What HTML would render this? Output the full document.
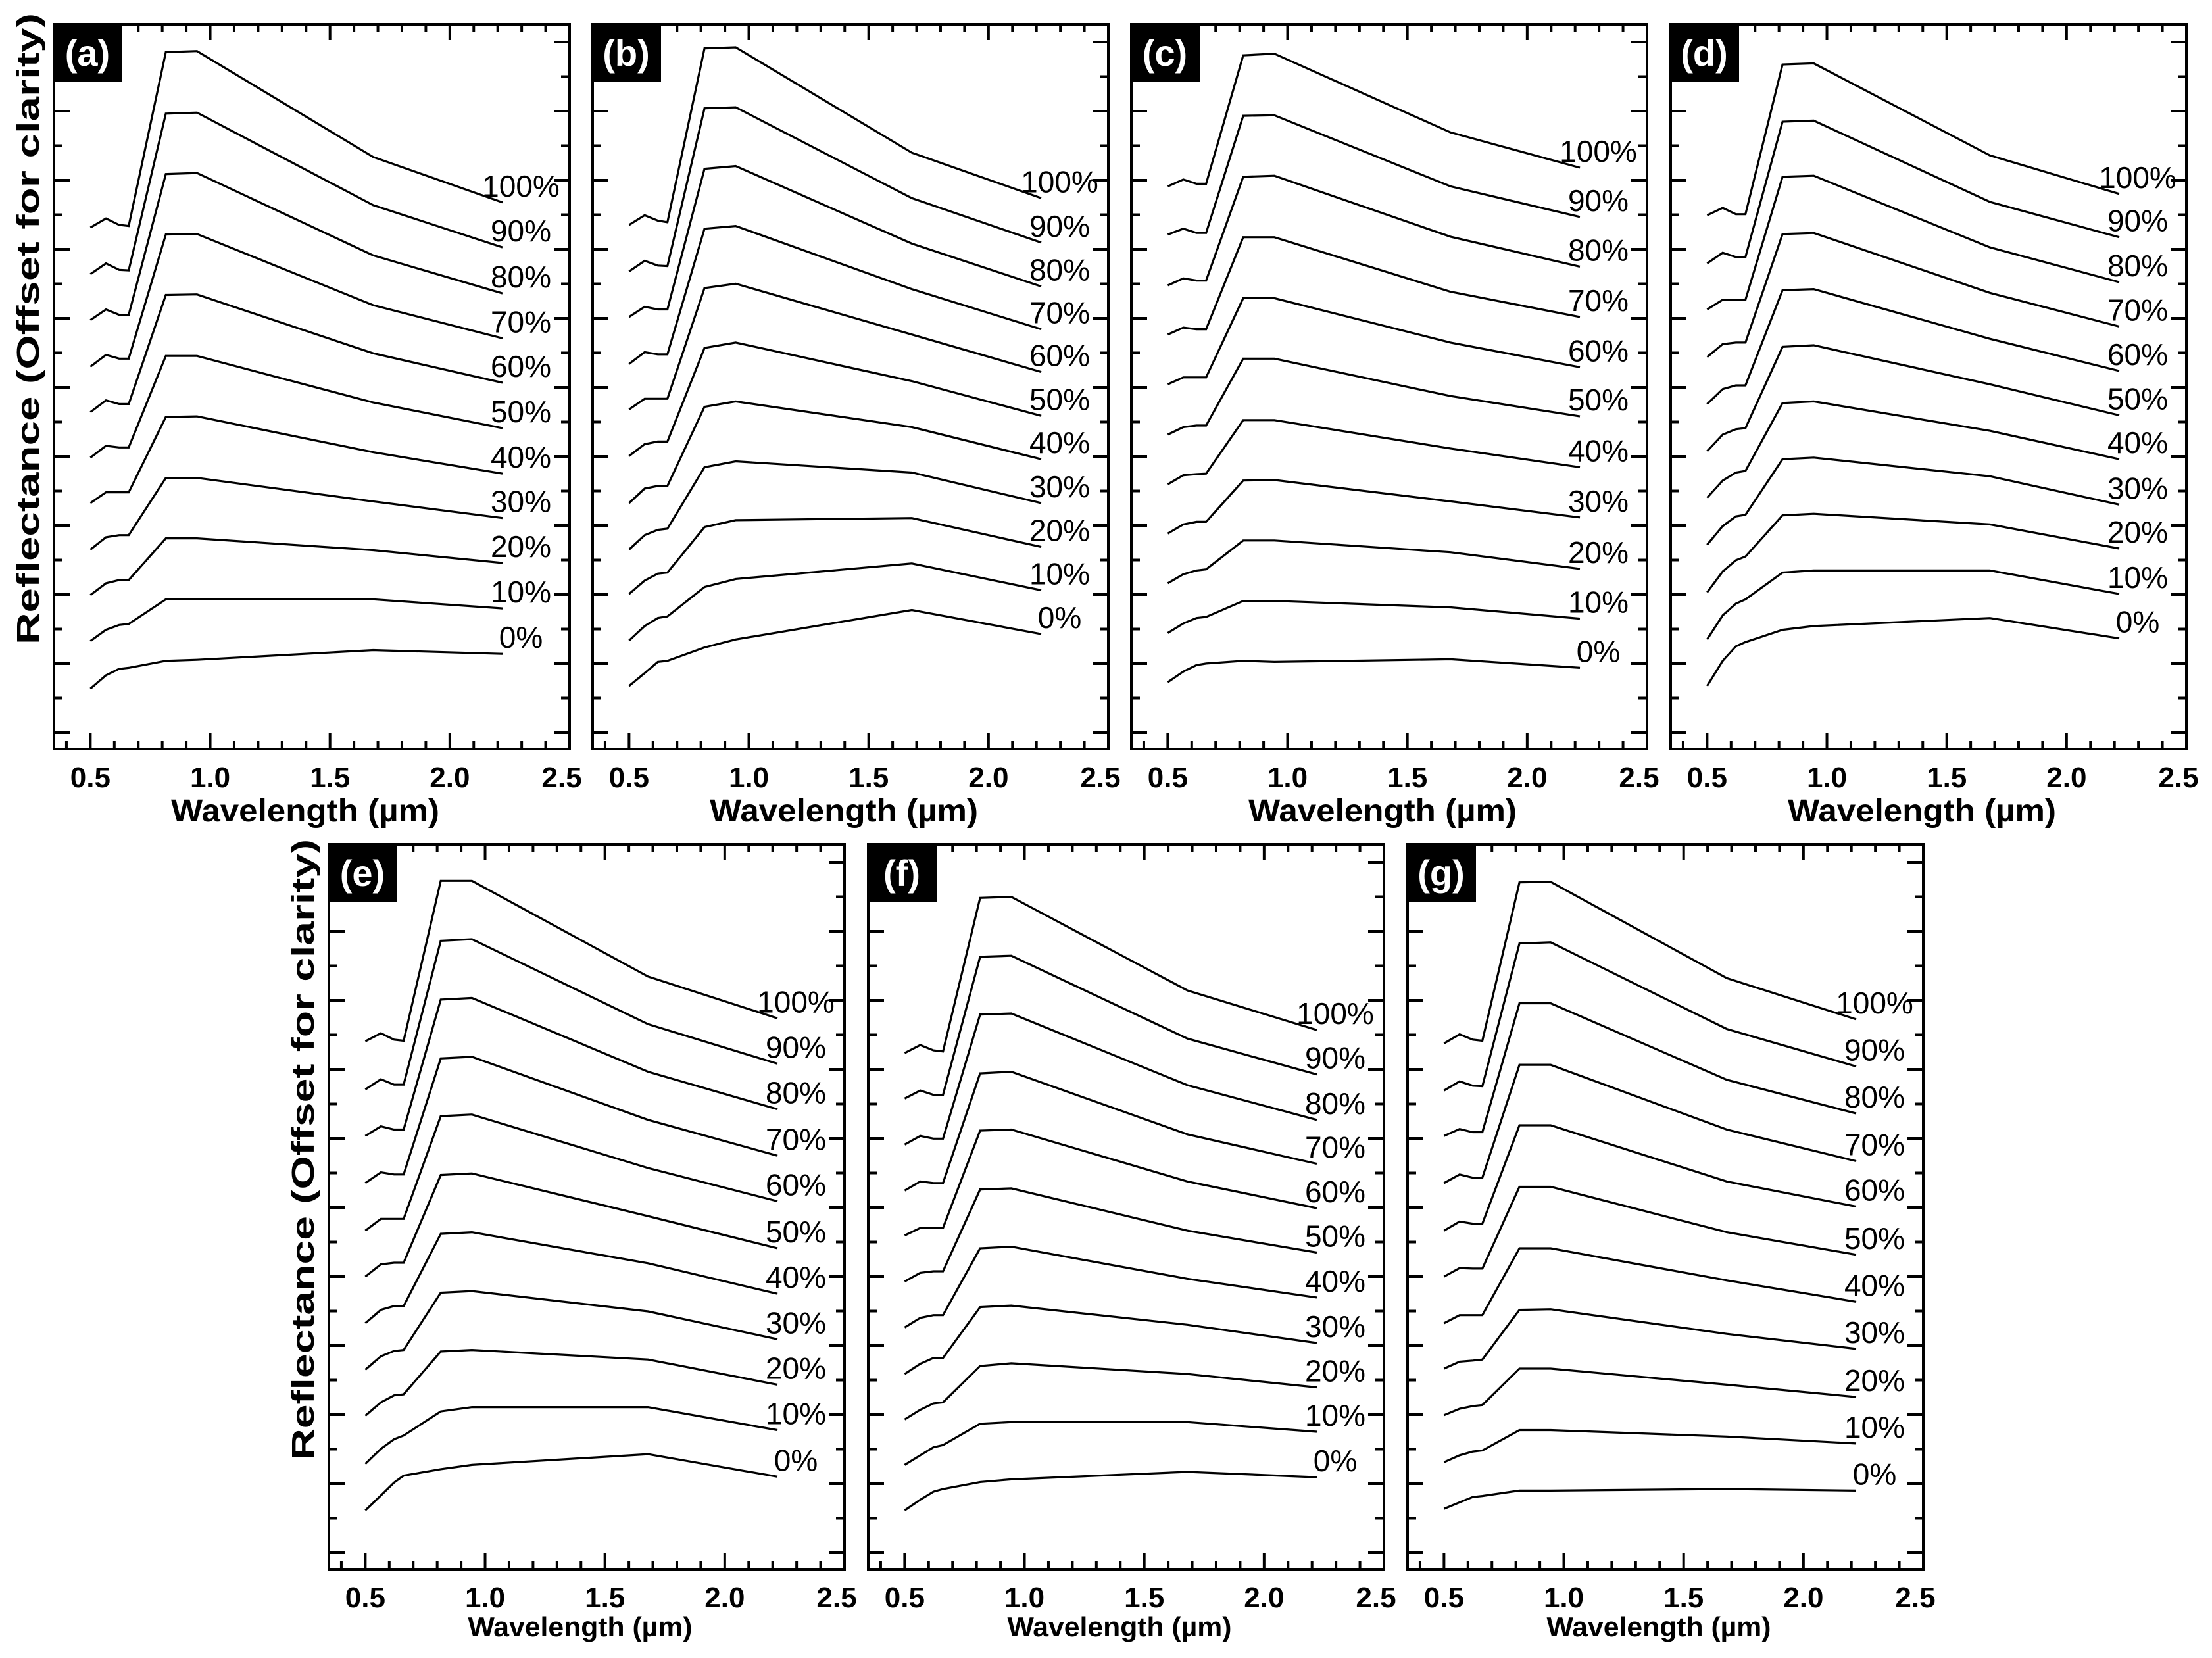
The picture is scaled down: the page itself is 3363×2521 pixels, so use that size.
<!DOCTYPE html>
<html><head><meta charset="utf-8">
<style>
html,body{margin:0;padding:0;background:#fff;}
svg{display:block;}
text{font-family:"Liberation Sans",Arial,sans-serif;}
</style></head>
<body>
<svg id="fig" width="3363" height="2521" viewBox="0 0 3363 2521" xmlns="http://www.w3.org/2000/svg">
<rect x="0" y="0" width="3363" height="2521" fill="#fff"/>
</svg>
<script>
// Wavelengths (µm) of band centres
const wavelengths = [0.5, 0.565, 0.62, 0.66, 0.815, 0.945, 1.68, 2.22];
const seriesLabels = ["100%","90%","80%","70%","60%","50%","40%","30%","20%","10%","0%"];
const xTickLabels = ["0.5","1.0","1.5","2.0","2.5"];
const xTickValues = [0.5, 1.0, 1.5, 2.0, 2.5];
// Reflectance (offset for clarity, arbitrary units), series 100% -> 0%
const panelA = [
[975,992,980,978,1303,1305,1107,1022],
[888,908,896,895,1188,1190,1017,938],
[802,822,812,812,1075,1077,923,852],
[715,737,730,730,962,963,830,768],
[630,652,645,645,849,850,740,685],
[545,567,564,564,735,735,648,600],
[460,480,480,480,621,622,555,515],
[373,396,400,400,507,507,463,432],
[288,310,316,316,394,394,372,348],
[202,223,232,234,280,280,280,263],
[113,138,150,152,165,167,185,178]];
const panelB = [
[980,998,988,985,1310,1312,1115,1030],
[893,913,904,903,1198,1200,1030,947],
[808,827,822,822,1085,1090,945,865],
[720,742,738,738,973,978,860,785],
[635,655,655,655,862,870,775,705],
[548,570,575,575,750,760,688,623],
[460,487,492,492,640,650,602,542],
[373,400,410,412,527,538,517,460],
[290,315,328,330,415,428,432,378],
[203,230,245,248,303,318,347,297],
[118,142,163,165,190,205,260,215]];
const panelC = [
[1052,1065,1057,1057,1297,1300,1153,1087],
[962,973,965,965,1184,1185,1052,995],
[867,880,876,876,1070,1072,958,902],
[775,788,785,785,957,957,855,808],
[682,695,695,695,843,843,760,714],
[588,602,605,605,730,730,660,622],
[495,512,514,515,615,615,562,527],
[403,420,425,425,502,503,463,433],
[310,327,334,336,390,390,368,337],
[217,235,245,247,277,277,265,244],
[125,145,157,160,165,163,168,152]];
const panelD = [
[998,1012,1000,1000,1280,1282,1110,1038],
[908,928,920,920,1173,1175,1023,957],
[822,840,840,840,1070,1072,938,873],
[733,757,760,760,963,965,853,790],
[645,673,680,680,858,860,767,707],
[557,588,598,600,752,755,682,624],
[470,502,517,520,647,650,595,542],
[382,417,435,438,542,545,510,457],
[293,332,353,360,437,440,420,375],
[205,250,272,280,330,334,334,290],
[118,165,192,200,223,230,245,207]];
const panelE = [
[987,1002,990,988,1287,1287,1108,1030],
[897,916,906,906,1175,1178,1019,945],
[810,828,822,822,1065,1068,930,860],
[722,742,738,738,955,958,840,773],
[633,655,655,655,847,850,750,688],
[547,570,573,573,737,740,660,600],
[460,485,492,492,627,630,572,515],
[373,398,408,410,517,520,482,430],
[287,312,325,327,407,410,392,345],
[197,225,243,250,295,303,303,260],
[110,138,162,175,187,195,215,173]];
const panelF = [
[965,980,970,968,1255,1257,1082,1008],
[880,895,887,887,1145,1147,992,925],
[794,810,805,805,1037,1039,905,840],
[708,725,722,722,927,930,813,758],
[624,638,638,638,820,822,725,675],
[538,554,557,557,710,712,633,592],
[452,470,475,475,600,603,543,508],
[365,384,395,395,490,493,457,423],
[280,298,310,312,380,385,365,340],
[195,213,228,232,272,275,275,257],
[110,130,145,150,163,168,182,172]];
const panelG = [
[983,1000,990,988,1284,1285,1105,1028],
[895,912,904,903,1170,1172,1010,940],
[810,823,817,817,1058,1058,915,852],
[722,738,732,732,943,943,822,763],
[633,650,646,646,830,830,725,678],
[547,563,562,562,715,715,630,588],
[460,475,475,475,600,600,540,500],
[375,388,390,392,485,486,440,412],
[288,300,305,307,375,375,345,322],
[200,213,220,222,260,260,248,235],
[113,125,135,137,147,147,150,147]];
const panelIds = ["a","b","c","d","e","f","g"];
const panelData = [panelA,panelB,panelC,panelD,panelE,panelF,panelG];

const NS = "http://www.w3.org/2000/svg";
const svg = document.getElementById("fig");
const X_MIN = 0.348, X_MAX = 2.5, Y_MIN = 0, Y_MAX = 1355;
const layout = [
 {l:82,t:37,b:1139,top:true},{l:901,t:37,b:1139,top:true},{l:1720,t:37,b:1139,top:true},{l:2540,t:37,b:1139,top:true},
 {l:500,t:1284,b:2386,top:false},{l:1320,t:1284,b:2386,top:false},{l:2140,t:1284,b:2386,top:false}];
const W = 784;

function mk(tag, attrs, parent){
  const e = document.createElementNS(NS, tag);
  for (const k in attrs) e.setAttribute(k, attrs[k]);
  (parent||svg).appendChild(e);
  return e;
}

panelIds.forEach((id, pi) => {
  const L = layout[pi];
  const xs = v => L.l + (v - X_MIN) / (X_MAX - X_MIN) * W;
  const ys = v => L.b - (v - Y_MIN) / (Y_MAX - Y_MIN) * (L.b - L.t);
  const g = mk("g", {});
  
  

  const tg = mk("g", {stroke:"#000", "stroke-width":4}, g);
  
  
  for (let k = 4; k <= 25; k++) {
    const v = k / 10;
    const x = xs(v);
    const major = (k % 5 === 0);
    const len = major ? 24 : 12;
    mk("line", {x1:x, y1:L.b, x2:x, y2:L.b - len}, tg);
    mk("line", {x1:x, y1:L.t, x2:x, y2:L.t + len}, tg);
  }
  for (let k = 0; k < 21; k++) {
    const y = L.b - 25 - k * 52.5;
    if (y < L.t + 10) break;
    const len = (k % 2 === 0) ? 24 : 13;
    mk("line", {x1:L.l, y1:y, x2:L.l + len, y2:y}, tg);
    mk("line", {x1:L.l + W, y1:y, x2:L.l + W - len, y2:y}, tg);
  }
  const fr = mk("rect", {x:L.l, y:L.t, width:W, height:L.b - L.t, fill:"none", stroke:"#000", "stroke-width":4}, g);
  
  

  const fs = 44;
  xTickValues.forEach((v, i) => {
    const t = mk("text", {x: xs(v) - (i === 4 ? 12 : 0), y: L.b + 58, "font-size": fs, "font-weight":"bold", "text-anchor":"middle", fill:"#000"}, g);
    
    
    t.textContent = xTickLabels[i];
  });
  const xt = mk("text", {x: L.l + W/2 - 10, y: L.b + (L.top ? 110 : 102), "font-size": L.top ? 48 : 42, "font-weight":"bold", "text-anchor":"middle", fill:"#000", textLength: L.top ? 408 : 341, lengthAdjust:"spacingAndGlyphs"}, g);
  
  
  xt.textContent = "Wavelength (µm)";

  const box = mk("rect", {x:L.l - 2, y:L.t - 2, width:106, height:89, fill:"#000"}, g);
  
  
  const lt = mk("text", {x:L.l + 51, y:L.t + 63, "font-size":56, "font-weight":"bold", "text-anchor":"middle", fill:"#fff"}, g);
  
  
  lt.textContent = "(" + id + ")";

  const data = panelData[pi];
  data.forEach((s, si) => {
    const pts = s.map((v, j) => xs(wavelengths[j]).toFixed(1) + "," + ys(v).toFixed(1)).join(" ");
    const pl = mk("polyline", {points: pts, fill:"none", stroke:"#000", "stroke-width":3.2, "stroke-linejoin":"miter"}, g);
    
    
    const endV = s[s.length - 1];
    const tx = mk("text", {x: xs(wavelengths[wavelengths.length-1]) + 28, y: ys(endV) - 9, "font-size": 46, "text-anchor":"middle", fill:"#000"}, g);
    
    
    tx.textContent = seriesLabels[si];
  });

  if (id === "a" || id === "e") {
    const cy = id === "a" ? 500 : 1748;
    const cx = L.l - 40;
    const yt = mk("text", {x: cx, y: cy, "font-size": 48, "font-weight":"bold", "text-anchor":"middle", fill:"#000", transform:"rotate(-90 " + cx + " " + cy + ")", textLength: id === "a" ? 960 : 944, lengthAdjust:"spacingAndGlyphs", dy: 17}, g);
    
    
    yt.textContent = "Reflectance (Offset for clarity)";
  }
});
</script>
</body></html>
